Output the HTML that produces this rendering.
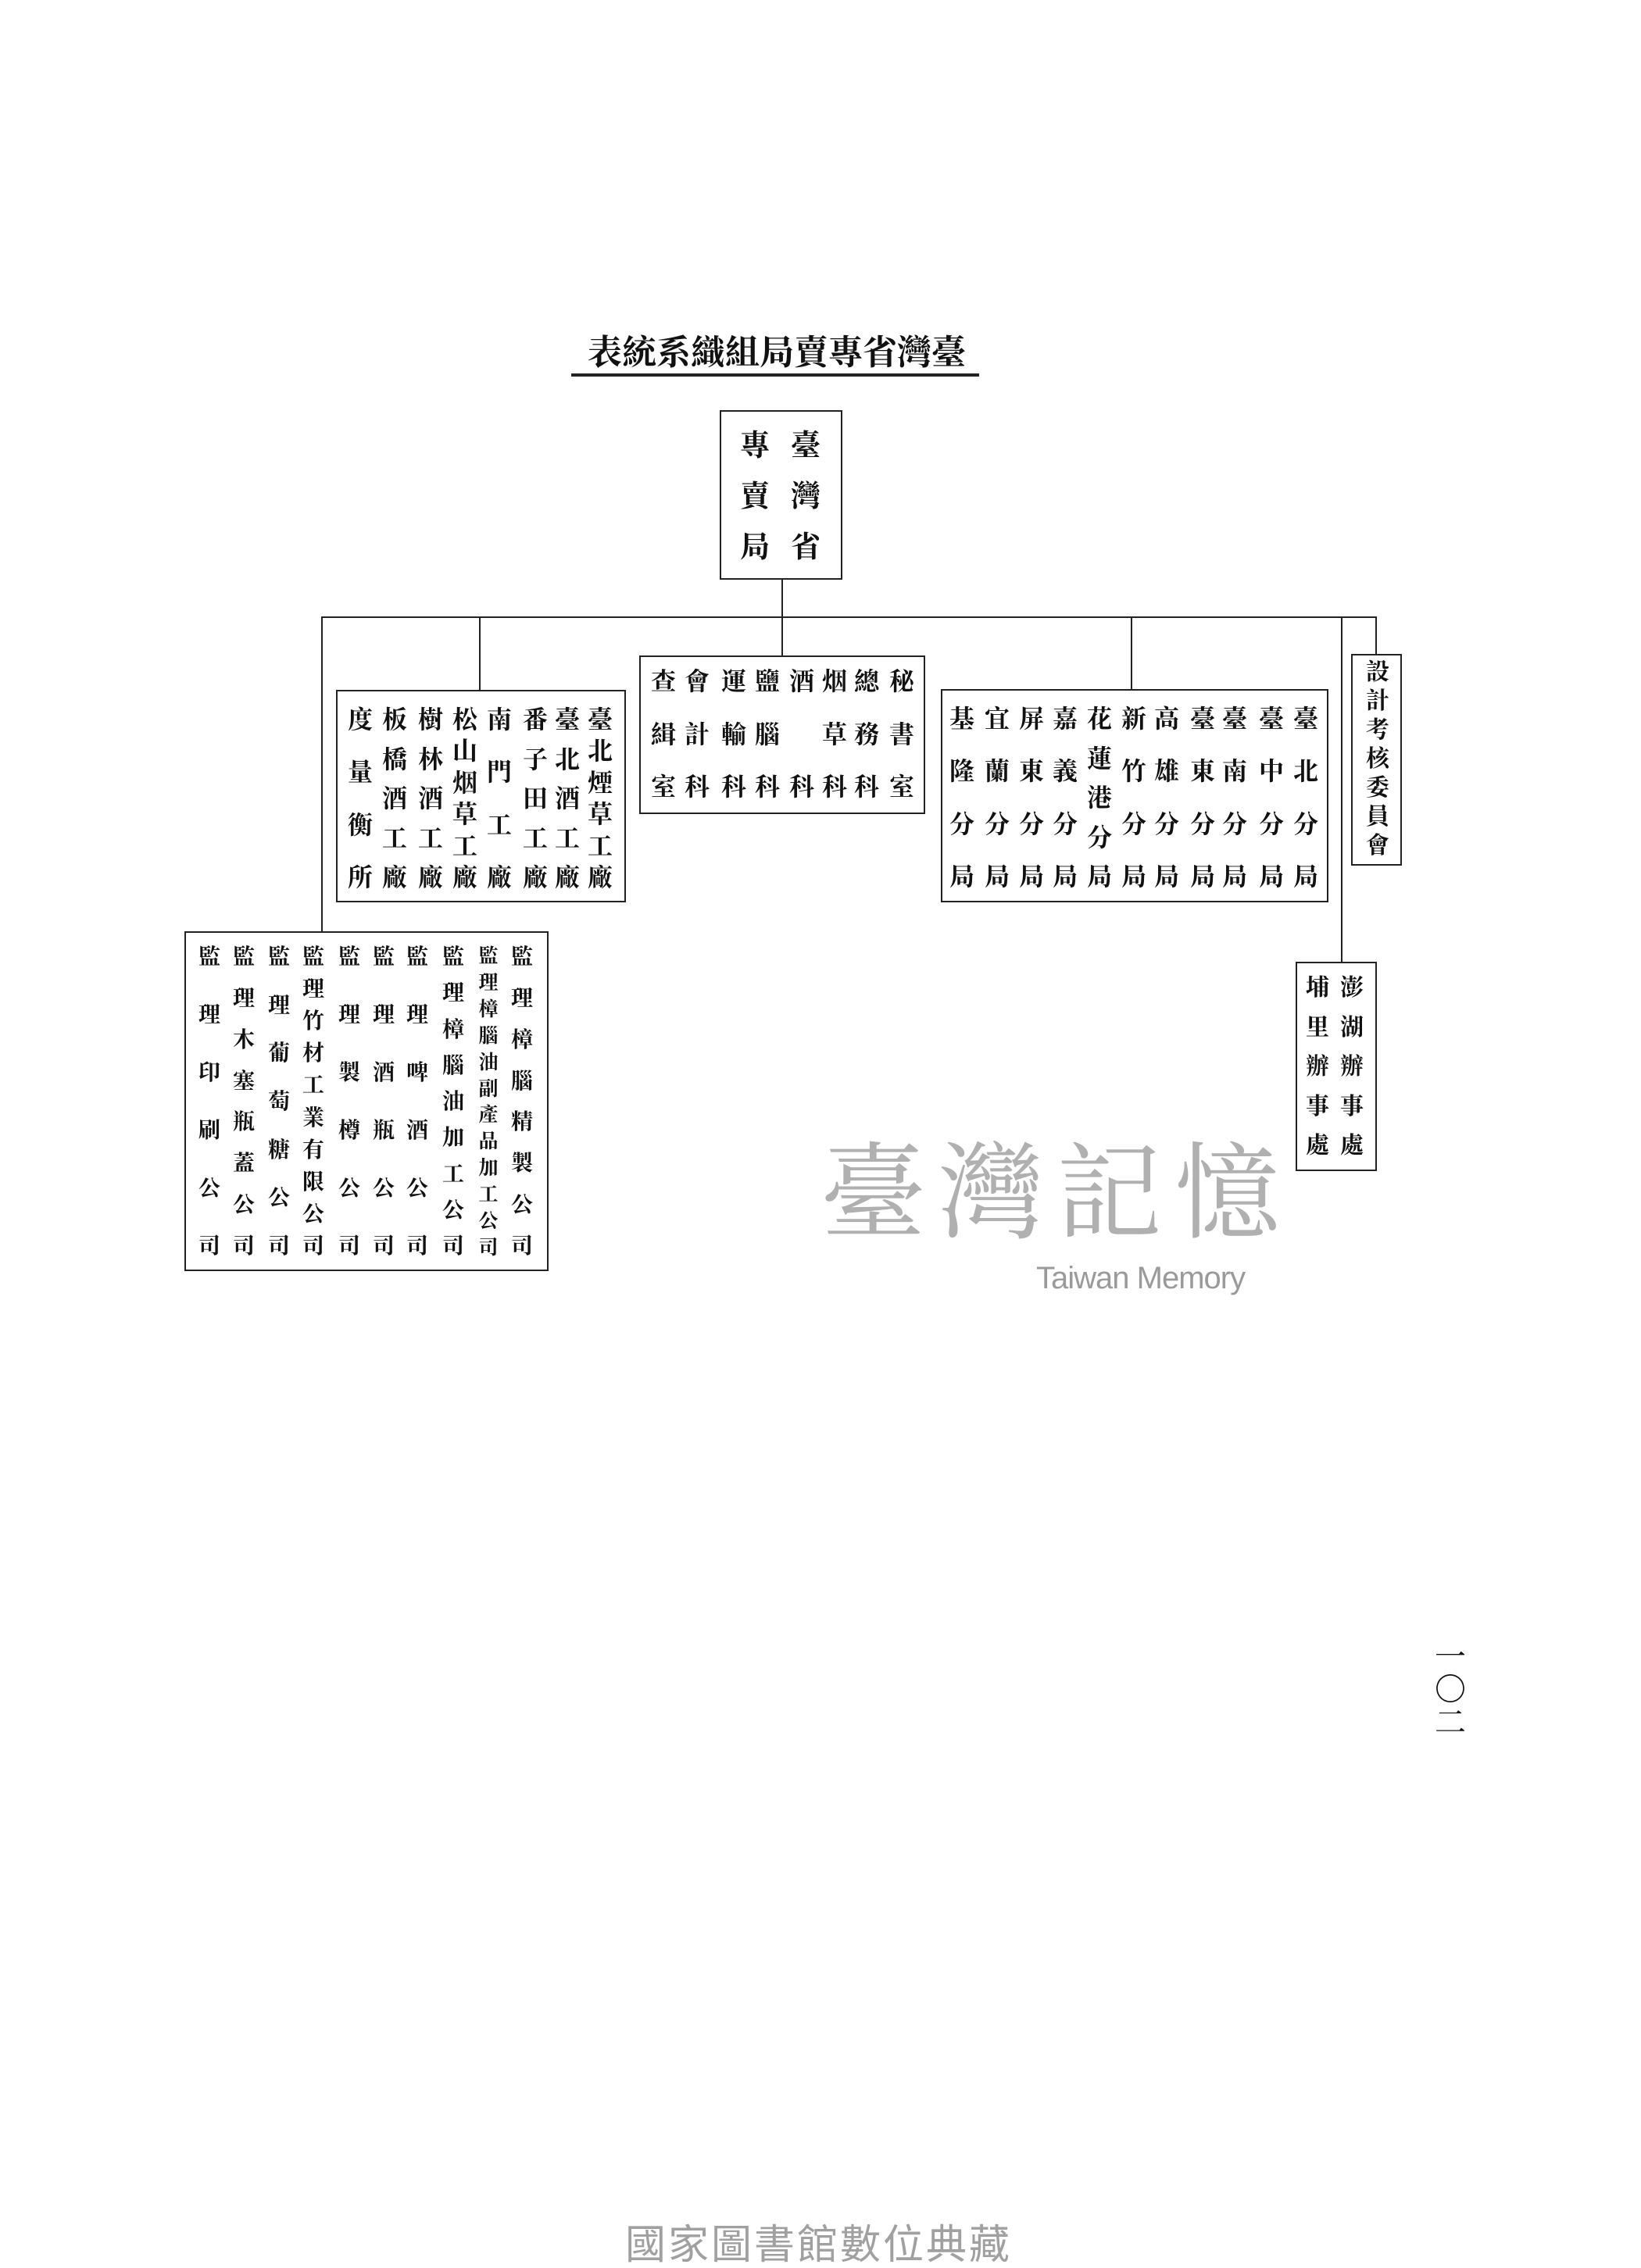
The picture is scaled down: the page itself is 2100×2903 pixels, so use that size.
<!DOCTYPE html>
<html><head><meta charset="utf-8"><style>
body{margin:0;width:2100px;height:2900px;background:#fff;position:relative;overflow:hidden;font-family:"Liberation Serif","Noto Serif CJK SC","Noto Sans CJK TC",serif;color:#111}
.a{position:absolute}
.box{position:absolute;border:2px solid #222;box-sizing:border-box}
.h{position:absolute;height:2px;background:#222}
.v{position:absolute;width:2px;background:#222}
.col{position:absolute;display:flex;flex-direction:column;justify-content:space-between;align-items:center;width:44px;font-weight:bold;line-height:1}
</style></head><body>

<div class="a" style="left:752px;top:430px;font-size:44px;font-weight:bold;white-space:nowrap;line-height:1">表統系織組局賣專省灣臺</div>
<div class="h" style="left:731px;top:478px;width:522px;height:4px"></div>

<div class="box" style="left:921px;top:525px;width:157px;height:217px"></div>
<div class="col" style="left:1010px;top:552px;height:168px;font-size:38px;width:42px"><span>臺</span><span>灣</span><span>省</span></div>
<div class="col" style="left:945px;top:552px;height:168px;font-size:38px;width:42px"><span>專</span><span>賣</span><span>局</span></div>

<div class="v" style="left:1000px;top:742px;height:97px"></div>
<div class="h" style="left:412px;top:789px;width:1350px"></div>
<div class="v" style="left:411px;top:789px;height:404px"></div>
<div class="v" style="left:613px;top:789px;height:94px"></div>
<div class="v" style="left:1447px;top:789px;height:93px"></div>
<div class="v" style="left:1716px;top:789px;height:442px"></div>
<div class="v" style="left:1760px;top:789px;height:48px"></div>

<!-- Box A -->
<div class="box" style="left:430px;top:883px;width:371px;height:272px"></div>
<div class="col" style="left:746px;top:905px;height:234px;font-size:32px"><span>臺</span><span>北</span><span>煙</span><span>草</span><span>工</span><span>廠</span></div>
<div class="col" style="left:704px;top:905px;height:234px;font-size:32px"><span>臺</span><span>北</span><span>酒</span><span>工</span><span>廠</span></div>
<div class="col" style="left:663px;top:905px;height:234px;font-size:32px"><span>番</span><span>子</span><span>田</span><span>工</span><span>廠</span></div>
<div class="col" style="left:617px;top:905px;height:234px;font-size:32px"><span>南</span><span>門</span><span>工</span><span>廠</span></div>
<div class="col" style="left:573px;top:905px;height:234px;font-size:32px"><span>松</span><span>山</span><span>烟</span><span>草</span><span>工</span><span>廠</span></div>
<div class="col" style="left:529px;top:905px;height:234px;font-size:32px"><span>樹</span><span>林</span><span>酒</span><span>工</span><span>廠</span></div>
<div class="col" style="left:483px;top:905px;height:234px;font-size:32px"><span>板</span><span>橋</span><span>酒</span><span>工</span><span>廠</span></div>
<div class="col" style="left:439px;top:905px;height:234px;font-size:32px"><span>度</span><span>量</span><span>衡</span><span>所</span></div>

<!-- Box B -->
<div class="box" style="left:818px;top:839px;width:366px;height:203px"></div>
<div class="col" style="left:1132px;top:856px;height:167px;font-size:32px"><span>秘</span><span>書</span><span>室</span></div>
<div class="col" style="left:1087px;top:856px;height:167px;font-size:32px"><span>總</span><span>務</span><span>科</span></div>
<div class="col" style="left:1046px;top:856px;height:167px;font-size:32px"><span>烟</span><span>草</span><span>科</span></div>
<div class="col" style="left:1004px;top:856px;height:167px;font-size:32px"><span>酒</span><span>&nbsp;</span><span>科</span></div>
<div class="col" style="left:960px;top:856px;height:167px;font-size:32px"><span>鹽</span><span>腦</span><span>科</span></div>
<div class="col" style="left:917px;top:856px;height:167px;font-size:32px"><span>運</span><span>輸</span><span>科</span></div>
<div class="col" style="left:870px;top:856px;height:167px;font-size:32px"><span>會</span><span>計</span><span>科</span></div>
<div class="col" style="left:827px;top:856px;height:167px;font-size:32px"><span>查</span><span>緝</span><span>室</span></div>

<!-- Box C -->
<div class="box" style="left:1204px;top:882px;width:496px;height:273px"></div>
<div class="col" style="left:1649px;top:904px;height:234px;font-size:32px"><span>臺</span><span>北</span><span>分</span><span>局</span></div>
<div class="col" style="left:1605px;top:904px;height:234px;font-size:32px"><span>臺</span><span>中</span><span>分</span><span>局</span></div>
<div class="col" style="left:1558px;top:904px;height:234px;font-size:32px"><span>臺</span><span>南</span><span>分</span><span>局</span></div>
<div class="col" style="left:1517px;top:904px;height:234px;font-size:32px"><span>臺</span><span>東</span><span>分</span><span>局</span></div>
<div class="col" style="left:1471px;top:904px;height:234px;font-size:32px"><span>高</span><span>雄</span><span>分</span><span>局</span></div>
<div class="col" style="left:1429px;top:904px;height:234px;font-size:32px"><span>新</span><span>竹</span><span>分</span><span>局</span></div>
<div class="col" style="left:1385px;top:904px;height:234px;font-size:32px"><span>花</span><span>蓮</span><span>港</span><span>分</span><span>局</span></div>
<div class="col" style="left:1341px;top:904px;height:234px;font-size:32px"><span>嘉</span><span>義</span><span>分</span><span>局</span></div>
<div class="col" style="left:1298px;top:904px;height:234px;font-size:32px"><span>屏</span><span>東</span><span>分</span><span>局</span></div>
<div class="col" style="left:1254px;top:904px;height:234px;font-size:32px"><span>宜</span><span>蘭</span><span>分</span><span>局</span></div>
<div class="col" style="left:1209px;top:904px;height:234px;font-size:32px"><span>基</span><span>隆</span><span>分</span><span>局</span></div>

<!-- Box D -->
<div class="box" style="left:1729px;top:837px;width:65px;height:271px"></div>
<div class="col" style="left:1741px;top:846px;height:252px;font-size:30px"><span>設</span><span>計</span><span>考</span><span>核</span><span>委</span><span>員</span><span>會</span></div>

<!-- Penghu -->
<div class="box" style="left:1658px;top:1231px;width:104px;height:268px"></div>
<div class="col" style="left:1708px;top:1250px;height:232px;font-size:30px"><span>澎</span><span>湖</span><span>辦</span><span>事</span><span>處</span></div>
<div class="col" style="left:1664px;top:1250px;height:232px;font-size:30px"><span>埔</span><span>里</span><span>辦</span><span>事</span><span>處</span></div>

<!-- Bottom box -->
<div class="box" style="left:236px;top:1192px;width:466px;height:435px"></div>
<div class="col" style="left:646px;top:1212px;height:398px;font-size:28px"><span>監</span><span>理</span><span>樟</span><span>腦</span><span>精</span><span>製</span><span>公</span><span>司</span></div>
<div class="col" style="left:603px;top:1212px;height:398px;font-size:25px"><span>監</span><span>理</span><span>樟</span><span>腦</span><span>油</span><span>副</span><span>產</span><span>品</span><span>加</span><span>工</span><span>公</span><span>司</span></div>
<div class="col" style="left:558px;top:1212px;height:398px;font-size:28px"><span>監</span><span>理</span><span>樟</span><span>腦</span><span>油</span><span>加</span><span>工</span><span>公</span><span>司</span></div>
<div class="col" style="left:512px;top:1212px;height:398px;font-size:28px"><span>監</span><span>理</span><span>啤</span><span>酒</span><span>公</span><span>司</span></div>
<div class="col" style="left:469px;top:1212px;height:398px;font-size:28px"><span>監</span><span>理</span><span>酒</span><span>瓶</span><span>公</span><span>司</span></div>
<div class="col" style="left:425px;top:1212px;height:398px;font-size:28px"><span>監</span><span>理</span><span>製</span><span>樽</span><span>公</span><span>司</span></div>
<div class="col" style="left:379px;top:1212px;height:398px;font-size:28px"><span>監</span><span>理</span><span>竹</span><span>材</span><span>工</span><span>業</span><span>有</span><span>限</span><span>公</span><span>司</span></div>
<div class="col" style="left:335px;top:1212px;height:398px;font-size:28px"><span>監</span><span>理</span><span>葡</span><span>萄</span><span>糖</span><span>公</span><span>司</span></div>
<div class="col" style="left:290px;top:1212px;height:398px;font-size:28px"><span>監</span><span>理</span><span>木</span><span>塞</span><span>瓶</span><span>蓋</span><span>公</span><span>司</span></div>
<div class="col" style="left:246px;top:1212px;height:398px;font-size:28px"><span>監</span><span>理</span><span>印</span><span>刷</span><span>公</span><span>司</span></div>

<!-- watermark -->
<div class="a" style="left:1050px;top:1462px;font-size:135px;line-height:1;color:#b0b0b0;letter-spacing:16px;white-space:nowrap;font-family:'Liberation Serif','Noto Serif CJK SC',serif">臺灣記憶</div>
<div class="a" style="left:1326px;top:1614px;font-size:40px;line-height:1.1;color:#9a9a9a;font-family:'Liberation Sans',sans-serif;letter-spacing:-1px;white-space:nowrap">Taiwan Memory</div>

<!-- page number -->
<div class="a" style="left:1836px;top:2100px;font-size:40px;line-height:42px;width:40px;text-align:center">一<br>〇<br>二</div>

<!-- footer -->
<div class="a" style="left:800px;top:2848px;font-size:52px;color:#a0a0a0;letter-spacing:3px;white-space:nowrap;font-family:'Liberation Sans','Noto Sans CJK TC',sans-serif;line-height:1">國家圖書館數位典藏</div>
</body></html>
